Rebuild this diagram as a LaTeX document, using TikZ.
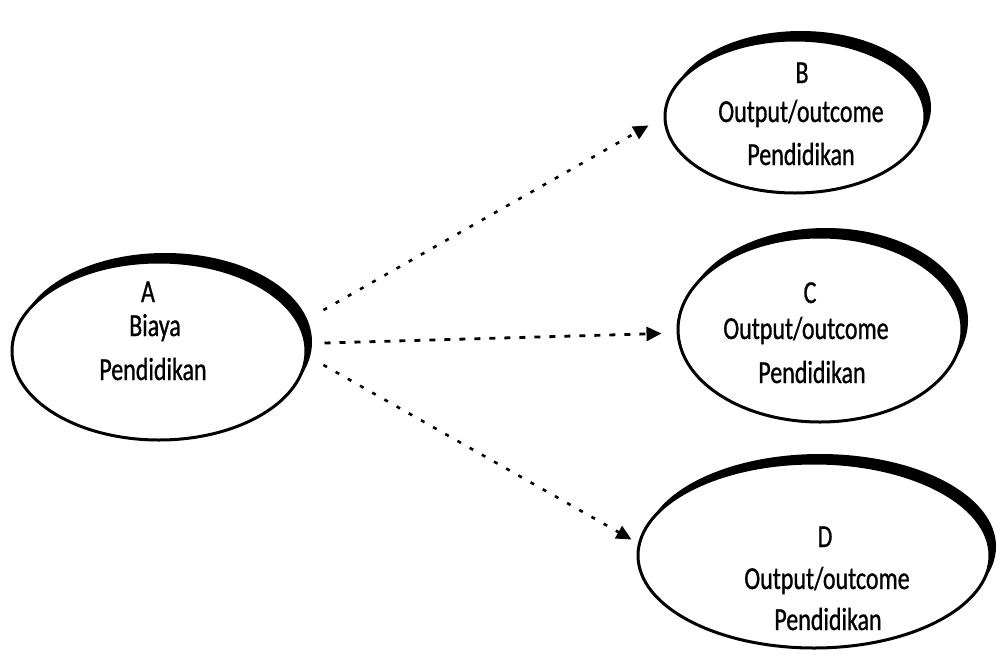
\documentclass[tikz,border=0pt]{standalone}
\usepackage{fontspec}
\newfontfamily\lblfont[FakeStretch=0.75,FakeBold=0.8]{Carlito}
\usetikzlibrary{shapes.geometric,shadows,arrows.meta,calc}
\begin{document}
\begin{tikzpicture}[x=1pt,y=-1pt,
  oval/.style={ellipse, draw=black, line width=3pt, fill=white, inner sep=0pt,
    general shadow={fill=black, shadow xshift=6pt, shadow yshift=9pt}},
  lbl/.style={font=\lblfont\fontsize{32}{38}\selectfont, anchor=base, inner sep=0pt},
  arrbase/.style={-{Triangle[length=15pt,width=14pt]}},
  arrlight/.style={arrbase, line width=2.6pt, dash pattern=on 4pt off 10pt},
  arrdark/.style={arrbase, line width=2.8pt, dash pattern=on 6pt off 9pt}
]
\useasboundingbox (0,0) rectangle (999,670);

\node[oval, minimum width=294pt, minimum height=178pt] (A) at (159,351) {};
\node[oval, minimum width=260pt, minimum height=153pt] (B) at (795,116.5) {};
\node[oval, minimum width=284pt, minimum height=185pt] (C) at (820,329.5) {};
\node[oval, minimum width=352pt, minimum height=185pt] (D) at (814,555.5) {};

\node[lbl] (A1) at (148,302) {A};
\node[lbl] (A2) at (155,336) {Biaya};
\node[lbl] (A3) at (153,380) {Pendidikan};

\node[lbl] (B1) at (802,83) {B};
\node[lbl] (B2) at (801,122) {Output/outcome};
\node[lbl] (B3) at (801,165) {Pendidikan};

\node[lbl] (C1) at (810,303) {C};
\node[lbl] (C2) at (806,339) {Output/outcome};
\node[lbl] (C3) at (812,383) {Pendidikan};

\node[lbl] (D1) at (825,547) {D};
\node[lbl] (D2) at (827,589) {Output/outcome};
\node[lbl] (D3) at (828,630) {Pendidikan};

\draw[arrlight] ($(A.east)+(16,-41)$) -- ($(B.west)+(-15,9)$);
\draw[arrdark] ($(A.east)+(17,-8)$) -- ($(C.west)+(-15,4)$);
\draw[arrlight] ($(A.east)+(16,14)$) -- ($(D.west)+(-5,-16)$);
\end{tikzpicture}
\end{document}
